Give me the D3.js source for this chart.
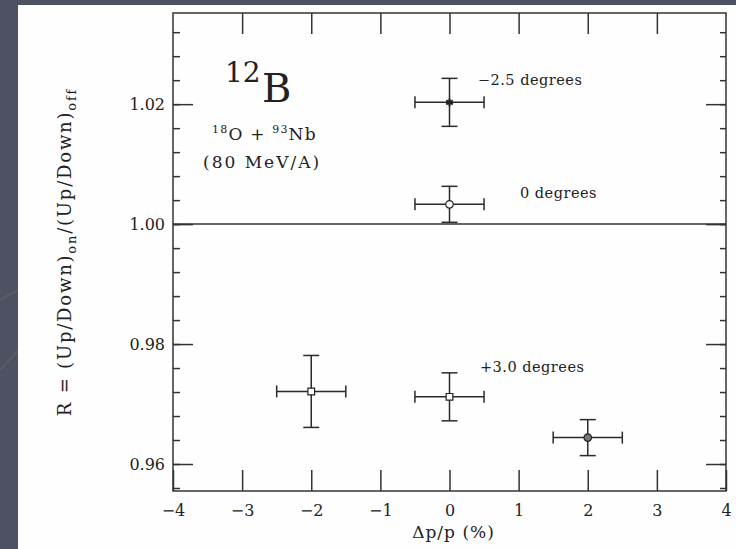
<!DOCTYPE html>
<html lang="en">
<head>
  <meta charset="UTF-8">
  <title>12B ratio vs dp/p</title>
  <style>
    html, body { margin: 0; padding: 0; background: #4e5161; }
    #chart { width: 736px; height: 549px; }
    text { font-family: "DejaVu Serif", serif; fill: #222; }
  </style>
  <script src="https://d3js.org/d3.v7.min.js"></script>
</head>
<body>
<div id="chart"></div>
<script>
  // Data
  var seriesLabels = ["\u22122.5 degrees", "0 degrees", "+3.0 degrees"];
  var ptSeries = [0, 1, 2, 2, 2];
  var ptDp = [0, 0, -2, 0, 2];          // dp/p (%)
  var ptR = [1.0203, 1.0033, 0.9721, 0.9712, 0.9644];
  var errDp = [0.5, 0.5, 0.5, 0.5, 0.5];
  var errR = [0.004, 0.003, 0.006, 0.004, 0.003];
  var xTicks = [-4, -3, -2, -1, 0, 1, 2, 3, 4];
  var yMajor = [0.96, 0.98, 1.00, 1.02];
  var yMinor = d3.range(0.956, 1.034, 0.004);

  var width = 736, height = 549;
  var plotL = 173, plotR = 726, plotT = 13, plotB = 491;

  var x = d3.scaleLinear().domain([-4, 4]).range([plotL, plotR]);
  var y = d3.scaleLinear().domain([0.9555, 1.0352]).range([plotB, plotT]);

  var svg = d3.select("#chart").append("svg")
          .attr("width", width)
          .attr("height", height);

  // slide background with faint swooshes
  svg.append("rect").attr("width", width).attr("height", height).attr("fill", "#4e5161");
  svg.append("path")
          .attr("d", "M0,300 Q120,230 260,250")
          .attr("stroke", "rgba(255,255,255,0.07)").attr("stroke-width", 2).attr("fill", "none");
  svg.append("path")
          .attr("d", "M0,370 Q60,300 200,220")
          .attr("stroke", "rgba(255,255,255,0.06)").attr("stroke-width", 2).attr("fill", "none");

  // white page
  svg.append("rect")
          .attr("x", 18).attr("y", 5)
          .attr("width", width - 18).attr("height", height - 5)
          .attr("fill", "#fefefe");

  var plot = svg.append("g");

  // frame
  plot.append("rect")
          .attr("x", plotL).attr("y", plotT)
          .attr("width", plotR - plotL).attr("height", plotB - plotT)
          .attr("fill", "none").attr("stroke", "#333").attr("stroke-width", 1.5);

  // reference line at R = 1
  plot.append("line")
          .attr("x1", plotL).attr("x2", plotR)
          .attr("y1", y(1)).attr("y2", y(1))
          .attr("stroke", "#333").attr("stroke-width", 1.5);

  function styleAxis(g) {
    g.select(".domain").remove();
    g.selectAll(".tick line").attr("stroke", "#333").attr("stroke-width", 1.5);
    g.selectAll("text").attr("font-family", "DejaVu Serif, serif").attr("font-size", 16).attr("fill", "#222");
  }

  // bottom axis with labels
  plot.append("g")
          .attr("transform", "translate(0," + plotB + ")")
          .call(d3.axisBottom(x).tickValues(xTicks).tickSize(-21).tickPadding(14))
          .call(styleAxis);
  // top axis ticks
  plot.append("g")
          .attr("transform", "translate(0," + plotT + ")")
          .call(d3.axisTop(x).tickValues(xTicks.slice(1, -1)).tickSize(-21).tickFormat(""))
          .call(styleAxis);

  // left axis: major with labels, minor
  plot.append("g")
          .attr("transform", "translate(" + plotL + ",0)")
          .call(d3.axisLeft(y).tickValues(yMajor).tickSize(-20).tickPadding(8).tickFormat(d3.format(".2f")))
          .call(styleAxis);
  plot.append("g")
          .attr("transform", "translate(" + plotL + ",0)")
          .call(d3.axisLeft(y).tickValues(yMinor).tickSize(-7).tickFormat(""))
          .call(styleAxis);
  // right axis
  plot.append("g")
          .attr("transform", "translate(" + plotR + ",0)")
          .call(d3.axisRight(y).tickValues(yMajor).tickSize(-20).tickFormat(""))
          .call(styleAxis);
  plot.append("g")
          .attr("transform", "translate(" + plotR + ",0)")
          .call(d3.axisRight(y).tickValues(yMinor).tickSize(-6).tickFormat(""))
          .call(styleAxis);

  // error bars
  var pts = ptDp.map(function(d, i) {
    return { dp: d, r: ptR[i], ex: errDp[i], ey: errR[i], s: ptSeries[i] };
  });
  var capH = 6, capV = 8;
  var eb = plot.append("g").attr("stroke", "#2a2a2a").attr("stroke-width", 1.5).attr("fill", "none");
  pts.forEach(function(p) {
    var cx = x(p.dp), cy = y(p.r);
    var x0 = x(p.dp - p.ex), x1 = x(p.dp + p.ex);
    var y0 = y(p.r - p.ey), y1 = y(p.r + p.ey);
    var g = eb.append("g");
    g.append("line").attr("x1", x0).attr("x2", x1).attr("y1", cy).attr("y2", cy);
    g.append("line").attr("x1", x0).attr("x2", x0).attr("y1", cy - capH).attr("y2", cy + capH);
    g.append("line").attr("x1", x1).attr("x2", x1).attr("y1", cy - capH).attr("y2", cy + capH);
    g.append("line").attr("x1", cx).attr("x2", cx).attr("y1", y0).attr("y2", y1);
    g.append("line").attr("x1", cx - capV).attr("x2", cx + capV).attr("y1", y1).attr("y2", y1);
    g.append("line").attr("x1", cx - capV).attr("x2", cx + capV).attr("y1", y0).attr("y2", y0);
  });

  // markers
  var markerType = [d3.symbolAsterisk, d3.symbolCircle, d3.symbolSquare, d3.symbolSquare, d3.symbolCircle];
  var markerFill = ["none", "#fff", "#fff", "#fff", "#777"];
  plot.append("g").selectAll("path.mk")
          .data(pts)
          .join("path")
          .attr("class", "mk")
          .attr("transform", function(d) { return "translate(" + x(d.dp) + "," + y(d.r) + ")"; })
          .attr("d", function(d, i) { return d3.symbol().type(markerType[i]).size(i === 0 ? 40 : 45)(); })
          .attr("fill", function(d, i) { return markerFill[i]; })
          .attr("stroke", "#222")
          .attr("stroke-width", function(d, i) { return i === 0 ? 2 : 1.2; });

  // series annotations
  var labelPos = [[0.41, 1.0232], [1.02, 1.0043], [0.44, 0.9753]];
  plot.append("g").selectAll("text")
          .data(seriesLabels)
          .join("text")
          .attr("x", function(d, i) { return x(labelPos[i][0]); })
          .attr("y", function(d, i) { return y(labelPos[i][1]); })
          .attr("font-size", 14.5)
          .attr("letter-spacing", 0.5)
          .text(function(d) { return d; });

  // nucleus label
  svg.append("text").attr("x", 225).attr("y", 82).attr("font-size", 28).text("12");
  svg.append("text").attr("x", 262).attr("y", 102).attr("font-size", 40).text("B");

  var reac = svg.append("text").attr("x", 212).attr("y", 140).attr("font-size", 17)
          .attr("letter-spacing", 1.2);
  reac.append("tspan").attr("font-size", 11).attr("dy", -7).text("18");
  reac.append("tspan").attr("dy", 7).text("O + ");
  reac.append("tspan").attr("font-size", 11).attr("dy", -7).text("93");
  reac.append("tspan").attr("dy", 7).text("Nb");
  svg.append("text").attr("x", 203).attr("y", 168).attr("font-size", 17)
          .attr("letter-spacing", 2).text("(80 MeV/A)");

  // axis titles
  svg.append("text")
          .attr("x", (plotL + plotR) / 2 + 4).attr("y", 538)
          .attr("text-anchor", "middle").attr("font-size", 17)
          .attr("letter-spacing", 1)
          .text("\u0394p/p (%)");

  var yl = svg.append("text")
          .attr("transform", "translate(71," + ((plotT + plotB) / 2) + ") rotate(-90)")
          .attr("text-anchor", "middle").attr("font-size", 18)
          .attr("letter-spacing", 1.8);
  yl.append("tspan").text("R = (Up/Down)");
  yl.append("tspan").attr("font-size", 13).attr("dy", 5).text("on");
  yl.append("tspan").attr("dy", -5).text("/(Up/Down)");
  yl.append("tspan").attr("font-size", 13).attr("dy", 5).text("off");
</script>
</body>
</html>
